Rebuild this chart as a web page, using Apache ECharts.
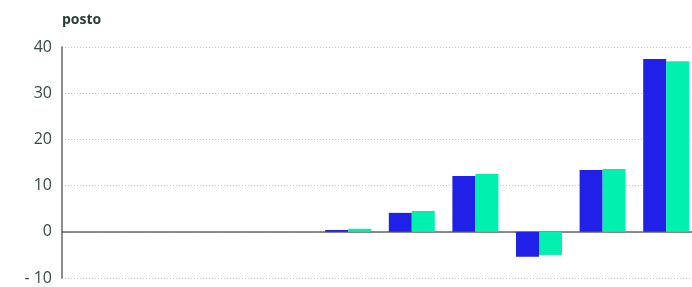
<!DOCTYPE html>
<html>
<head>
<meta charset="UTF-8">
<title>posto</title>
<script src="https://cdn.jsdelivr.net/npm/echarts@6/dist/echarts.min.js"></script>
<style>
html, body { margin: 0; padding: 0; background: #fff; }
#main { width: 692px; height: 287px; }
</style>
</head>
<body>
<div id="main"></div>
<script>
var categories = ['1', '2', '3', '4', '5', '6', '7', '8', '9', '10'];
var serieA = [null, null, null, null, 0.4, 4.1, 12.1, -5.4, 13.4, 37.4];
var serieB = [null, null, null, null, 0.65, 4.5, 12.5, -5.0, 13.6, 36.9];

var chart = echarts.init(document.getElementById('main'));
chart.setOption({
	animation: false,
	title: {
		text: 'posto',
		left: 57,
		top: 8,
		textStyle: { fontFamily: 'Open Sans', fontSize: 14, fontWeight: 'bold', color: '#2b3d35' }
	},
	grid: { left: 62, width: 636, top: 47, bottom: 9, outerBoundsMode: 'none' },
	xAxis: {
		type: 'category',
		data: categories,
		axisLine: { onZero: true, lineStyle: { color: '#666', width: 1.5 } },
		axisTick: { show: false },
		axisLabel: { show: false }
	},
	yAxis: {
		type: 'value',
		min: -10,
		max: 40,
		interval: 10,
		axisLine: { show: true, lineStyle: { color: '#666', width: 1.5 } },
		axisTick: { show: false },
		axisLabel: {
			margin: 10,
			fontFamily: 'Open Sans',
			fontSize: 16,
			color: '#3c4a44',
			formatter: function (v) { return v < 0 ? '- ' + Math.abs(v) : v; }
		},
		splitLine: { lineStyle: { color: '#c8c8c8', type: [1, 2] } }
	},
	series: [
		{ type: 'bar', data: serieA, barWidth: 23, barGap: 0, itemStyle: { color: '#2020e8' } },
		{ type: 'bar', data: serieB, barWidth: 23, barGap: 0, itemStyle: { color: '#00f0b0' } }
	]
});
</script>
</body>
</html>
